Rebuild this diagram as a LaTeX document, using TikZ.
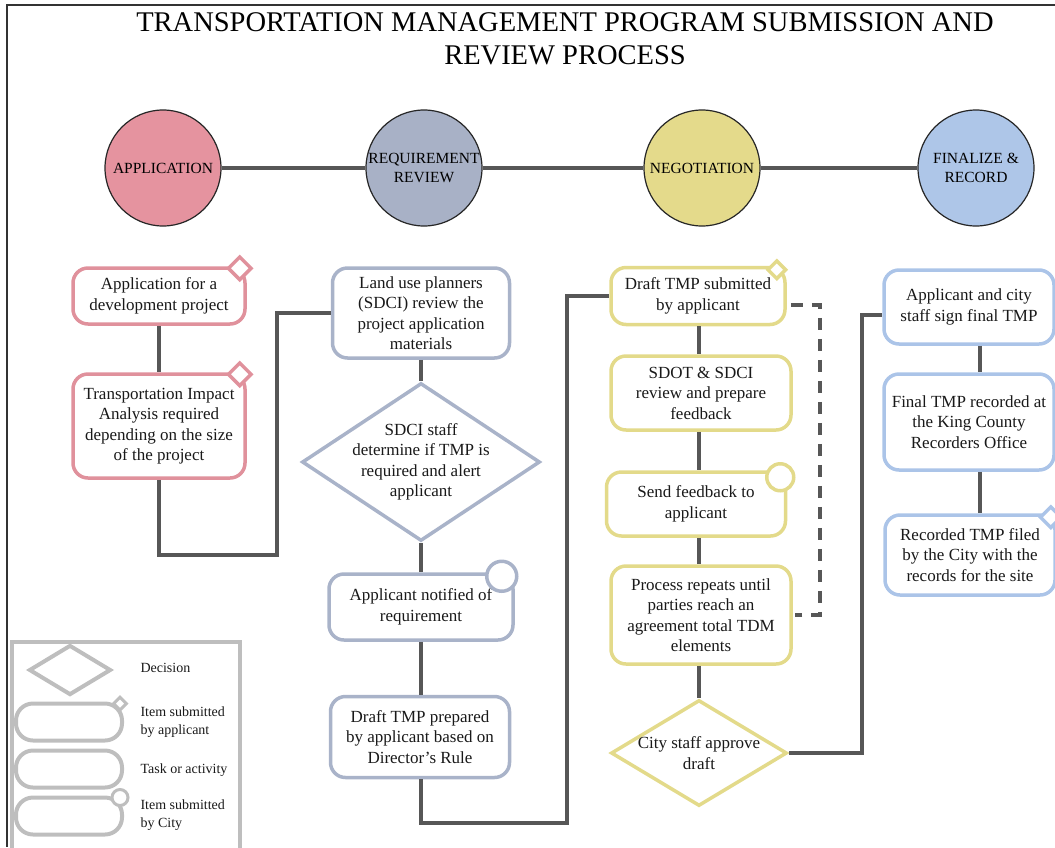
\documentclass[tikz,border=0pt]{standalone}
\usepackage{fontspec}
\setmainfont{Liberation Serif}
\usetikzlibrary{shapes}

\definecolor{appfill}{HTML}{E5939F}
\definecolor{appline}{HTML}{E0919C}
\definecolor{revfill}{HTML}{A8B1C6}
\definecolor{revline}{HTML}{A9B3C9}
\definecolor{negfill}{HTML}{E4DA8B}
\definecolor{negline}{HTML}{E3DA8A}
\definecolor{finfill}{HTML}{AEC6E8}
\definecolor{finline}{HTML}{ABC4E8}
\definecolor{linkgray}{HTML}{575757}
\definecolor{keygray}{HTML}{BEBEBE}

\begin{document}
\begin{tikzpicture}[x=1pt,y=-1pt]
\tikzstyle{phase}=[circle,draw=black!85,line width=1.2pt,minimum size=116pt,inner sep=0pt,align=center,font=\fontsize{15.5}{19}\selectfont]
\tikzstyle{task}=[rectangle,rounded corners=15pt,draw,line width=3.5pt,fill=white,align=center,inner sep=2pt,text=black!90,font=\fontsize{17}{20.5}\selectfont]
\tikzstyle{decide}=[diamond,draw,line width=3.5pt,fill=white,inner sep=0pt]
\tikzstyle{decidetext}=[align=center,text=black!90,font=\fontsize{17}{20.5}\selectfont]
\tikzstyle{bymark}=[diamond,fill=white,line width=3.5pt,inner sep=0pt]
\tikzstyle{citymark}=[circle,fill=white,line width=3.5pt,inner sep=0pt]
\tikzstyle{link}=[draw=linkgray,line width=4.5pt]
\tikzstyle{keybox}=[rectangle,rounded corners=17pt,draw=keygray,line width=4pt,minimum width=106pt,minimum height=37pt]
\tikzstyle{keytext}=[anchor=west,align=left,text=black!90,font=\fontsize{14}{18}\selectfont]

\useasboundingbox (0,0) rectangle (1055,847);
\draw[line width=2pt,black!80] (1055,5) -- (7,5) -- (7,847);

\node[align=center,font=\fontsize{28.5}{33}\selectfont] (title) at (565,39)
  {TRANSPORTATION MANAGEMENT PROGRAM SUBMISSION AND\\REVIEW PROCESS};

\node[phase,fill=appfill] (ph1) at (163,168) {APPLICATION};
\node[phase,fill=revfill] (ph2) at (424,168) {REQUIREMENT\\REVIEW};
\node[phase,fill=negfill] (ph3) at (702,168) {NEGOTIATION};
\node[phase,fill=finfill] (ph4) at (976,168) {FINALIZE \&\\RECORD};
\draw[link] (ph1) -- (ph2) (ph2) -- (ph3) (ph3) -- (ph4);

\coordinate (s2) at (421,0);
\coordinate (s3) at (699,0);
\coordinate (s4) at (980,0);
\coordinate (k1) at (277,555);
\coordinate (k2) at (567,823);
\coordinate (k3) at (862,315);
\coordinate (ret) at (820,615);

\node[task,draw=appline,minimum width=172pt,minimum height=56pt] (a1) at (159,296) {Application for a\\development project};
\node[task,draw=appline,minimum width=172pt,minimum height=104pt] (a2) at (159,426) {Transportation Impact\\Analysis required\\depending on the size\\of the project};

\node[task,draw=revline,minimum width=177pt,minimum height=90pt] (r1) at (421,313) {Land use planners\\(SDCI) review the\\project application\\materials};
\node[decide,draw=revline,minimum width=238pt,minimum height=158pt,
  label={[decidetext]center:{SDCI staff\\determine if TMP is\\required and alert\\applicant}}] (r2) at (421,462) {};
\node[task,draw=revline,minimum width=184pt,minimum height=66pt] (r3) at (421,607) {Applicant notified of\\requirement};
\node[task,draw=revline,minimum width=179pt,minimum height=81pt] (r4) at (420,737) {Draft TMP prepared\\by applicant based on\\Director's Rule};

\node[task,draw=negline,minimum width=174pt,minimum height=57pt] (n1) at (698,296) {Draft TMP submitted\\by applicant};
\node[task,draw=negline,minimum width=180pt,minimum height=74pt] (n2) at (701,393) {SDOT \& SDCI\\review and prepare\\feedback};
\node[task,draw=negline,minimum width=179pt,minimum height=64pt] (n3) at (696,504) {Send feedback to\\applicant};
\node[task,draw=negline,minimum width=180pt,minimum height=98pt] (n4) at (701,615) {Process repeats until\\parties reach an\\agreement total TDM\\elements};
\node[decide,draw=negline,minimum width=176pt,minimum height=106pt,
  label={[decidetext]center:{City staff approve\\draft}}] (n5) at (699,753) {};

\node[task,draw=finline,minimum width=170pt,minimum height=74pt] (f1) at (969,307) {Applicant and city\\staff sign final TMP};
\node[task,draw=finline,minimum width=170pt,minimum height=96pt] (f2) at (969,422) {Final TMP recorded at\\the King County\\Recorders Office};
\node[task,draw=finline,minimum width=170pt,minimum height=80pt] (f3) at (970,555) {Recorded TMP filed\\by the City with the\\records for the site};

\node[bymark,draw=appline,minimum size=24pt] (a1m) at ([shift={(-7pt,-2pt)}]a1.north east) {};
\node[bymark,draw=appline,minimum size=24pt] (a2m) at ([shift={(-7pt,-2pt)}]a2.north east) {};
\node[citymark,draw=revline,minimum size=30pt] (r3m) at ([shift={(-13pt,-4pt)}]r3.north east) {};
\node[bymark,draw=negline,minimum size=19pt] (n1m) at ([shift={(-10pt,-4pt)}]n1.north east) {};
\node[citymark,draw=negline,minimum size=27pt] (n3m) at ([shift={(-7pt,-7pt)}]n3.north east) {};
\node[bymark,draw=finline,minimum size=22pt] (f3m) at ([shift={(-6pt,-4pt)}]f3.north east) {};

\draw[link] (a1) -- (a2);
\draw[link] (a2.south) |- (k1) |- (r1.west);
\draw[link] (r1.south -| s2) -- (r2.north -| s2) (r2.south -| s2) -- (r3.north -| s2) (r3.south -| s2) -- (r4.north -| s2);
\draw[link] (r4.south -| s2) |- (k2) |- (n1.west);
\draw[link] (n1.south -| s3) -- (n2.north -| s3) (n2.south -| s3) -- (n3.north -| s3)
  (n3.south -| s3) -- (n4.north -| s3) (n4.south -| s3) -- (n5.north);
\draw[link,dash pattern=on 12pt off 9pt] ([shift={(4pt,-9pt)}]n1.east) -| (ret) -- ([xshift=2pt]n4.east);
\draw[link] (n5.east) -| (k3) -- (k3 -| f1.west);
\draw[link] (f1.south -| s4) -- (f2.north -| s4) (f2.south -| s4) -- (f3.north -| s4);

\draw[keygray,line width=4pt] (12,642) rectangle (240,851);
\node[decide,draw=keygray,line width=4pt,minimum width=82pt,minimum height=50pt] (kd) at (70,670) {};
\node[keybox] (kb1) at (69,722) {};
\node[keybox] (kb2) at (69,769) {};
\node[keybox] (kb3) at (69,816) {};
\node[bymark,draw=keygray,line width=3pt,minimum size=14pt] (kb1m) at ([shift={(-4pt,-2pt)}]kb1.north east) {};
\node[citymark,draw=keygray,line width=3pt,minimum size=16pt] (kb3m) at ([shift={(-4pt,-2pt)}]kb3.north east) {};
\node[keytext] (kt1) at (137,668) {Decision};
\node[keytext] (kt2) at (137,722) {Item submitted\\by applicant};
\node[keytext] (kt3) at (137,770) {Task or activity};
\node[keytext] (kt4) at (137,815) {Item submitted\\by City};
\end{tikzpicture}
\end{document}
